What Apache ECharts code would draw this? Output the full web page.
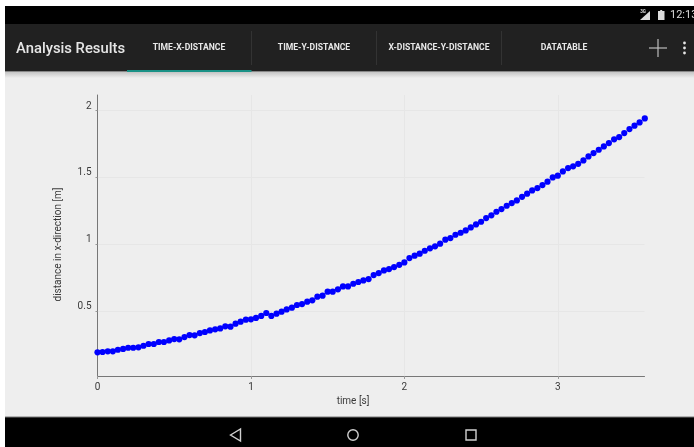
<!DOCTYPE html>
<html><head><meta charset="utf-8">
<style>html,body{margin:0;padding:0;background:#fff}#c{width:694px;height:447px}</style>
<script src="https://cdn.jsdelivr.net/npm/echarts@6/dist/echarts.min.js"></script>
</head><body><div id="c"></div>
<script>
const times = [0,0.033,0.067,0.1,0.133,0.167,0.2,0.233,0.267,0.3,0.333,0.367,0.4,0.433,0.467,0.5,0.533,0.567,0.6,0.633,0.667,0.7,0.733,0.767,0.8,0.833,0.867,0.9,0.933,0.967,1,1.033,1.067,1.1,1.133,1.167,1.2,1.233,1.267,1.3,1.333,1.367,1.4,1.433,1.467,1.5,1.533,1.567,1.6,1.633,1.667,1.7,1.733,1.767,1.8,1.833,1.867,1.9,1.933,1.967,2,2.033,2.067,2.1,2.133,2.167,2.2,2.233,2.267,2.3,2.333,2.367,2.4,2.433,2.467,2.5,2.533,2.567,2.6,2.633,2.667,2.7,2.733,2.767,2.8,2.833,2.867,2.9,2.933,2.967,3,3.033,3.067,3.1,3.133,3.167,3.2,3.233,3.267,3.3,3.333,3.367,3.4,3.433,3.467,3.5,3.533,3.567];
const distances = [0.191,0.193,0.198,0.198,0.210,0.216,0.225,0.225,0.228,0.240,0.253,0.253,0.268,0.268,0.280,0.290,0.288,0.305,0.320,0.318,0.335,0.343,0.355,0.363,0.370,0.385,0.383,0.405,0.420,0.435,0.438,0.448,0.463,0.485,0.463,0.480,0.495,0.512,0.525,0.545,0.552,0.570,0.580,0.607,0.615,0.645,0.645,0.662,0.684,0.684,0.704,0.717,0.729,0.739,0.769,0.784,0.804,0.814,0.829,0.846,0.864,0.896,0.914,0.929,0.951,0.969,0.984,1.004,1.034,1.046,1.071,1.086,1.103,1.126,1.148,1.168,1.196,1.216,1.243,1.263,1.288,1.308,1.328,1.355,1.378,1.403,1.420,1.443,1.468,1.500,1.513,1.545,1.570,1.583,1.602,1.627,1.657,1.682,1.707,1.732,1.757,1.785,1.802,1.832,1.862,1.887,1.912,1.942];
const xTicks = [0,1,2,3];
const yTicks = [0.5,1,1.5,2];
const tabs = ["TIME-X-DISTANCE","TIME-Y-DISTANCE","X-DISTANCE-Y-DISTANCE","DATATABLE"];
const tabCentres = [189,314,439,564];
const FF = 'Roboto';
const txt = (x,y,text,size,weight,fill,align) => ({type:'text',x,y,silent:true,style:{text,font:`${weight} ${size}px ${FF}`,fill,align:align||'center',verticalAlign:'middle'}});
const rect = (x,y,w,h,fill) => ({type:'rect',silent:true,shape:{x,y,width:w,height:h},style:{fill}});
const ln = (x1,y1,x2,y2,stroke,w) => ({type:'line',silent:true,shape:{x1,y1,x2,y2},style:{stroke,lineWidth:w}});
const chrome = [
  rect(5,6,689,441,'#eeeeee'),
  rect(5,72,689,6,{type:'linear',x:0,y:0,x2:0,y2:1,colorStops:[{offset:0,color:'#c4c4c4'},{offset:1,color:'#eeeeee'}]}),
  rect(5,6,689,18,'#000000'),
  rect(5,24,689,47.5,'#212121'),
  rect(127,70,124.5,2,'#1a9186'),
  ln(251.5,31,251.5,65,'#333333',1), ln(376.5,31,376.5,65,'#333333',1), ln(501.5,31,501.5,65,'#333333',1),
  txt(16,49.5,'Analysis Results',14.8,500,'#e6e6e6','left'),
  ...tabs.map((t,i)=>txt(tabCentres[i],48,t,8.6,700,'#e8e8e8')),
  ln(649,48,667,48,'#bdbdbd',1.2), ln(658,39,658,57,'#bdbdbd',1.2),
  {type:'circle',silent:true,shape:{cx:684.5,cy:43,r:1.4},style:{fill:'#e6e6e6'}},
  {type:'circle',silent:true,shape:{cx:684.5,cy:48,r:1.4},style:{fill:'#e6e6e6'}},
  {type:'circle',silent:true,shape:{cx:684.5,cy:53,r:1.4},style:{fill:'#e6e6e6'}},
  txt(670,15.5,'12:13',11,400,'#dcdcdc','left'),
  {type:'polygon',silent:true,shape:{points:[[640,20],[650,20],[650,11]]},style:{fill:'#dcdcdc'}},
  txt(643,12,'3G',4.5,700,'#dcdcdc'),
  rect(658,11,6.5,9,'#dcdcdc'), rect(660.2,10,2,1,'#dcdcdc'),
  rect(5,417,689,30,'#000000'), rect(5,416.5,689,1,'#777777'),
  {type:'polygon',silent:true,shape:{points:[[230.5,435],[240.5,429],[240.5,441]]},style:{fill:'none',stroke:'#d0d0d0',lineWidth:1.4}},
  {type:'circle',silent:true,shape:{cx:353,cy:435,r:5.2},style:{fill:'none',stroke:'#d0d0d0',lineWidth:1.4}},
  {type:'rect',silent:true,shape:{x:466,y:430,width:10,height:10},style:{fill:'none',stroke:'#d0d0d0',lineWidth:1.4}}
];
const chart = echarts.init(document.getElementById('c'),null,{renderer:'canvas'});
chart.setOption({
  animation:false,
  backgroundColor:'#ffffff',
  graphic:{elements:chrome.map(e=>Object.assign(e,{z:-1,zlevel:0}))},
  grid:{left:97.5,right:49.5,top:95,bottom:71,containLabel:false},
  xAxis:{type:'value',min:0,max:3.565,name:'time [s]',nameLocation:'middle',nameGap:13,
    nameTextStyle:{fontFamily:FF,fontSize:10,color:'#3a3a3a',padding:[0,36,0,0]},
    axisLine:{show:true,lineStyle:{color:'#777777',width:1}},
    axisTick:{show:true,length:3,lineStyle:{color:'#999999'},customValues:xTicks},
    axisLabel:{fontFamily:FF,fontSize:10,color:'#3a3a3a',margin:6,customValues:xTicks},
    splitLine:{show:true,lineStyle:{color:'#e6e6e6',width:1}}},
  yAxis:{type:'value',min:0.0135,max:2.117,name:'distance in x-direction [m]',nameLocation:'middle',nameGap:34,
    nameTextStyle:{fontFamily:FF,fontSize:10,color:'#3a3a3a',padding:[0,18,0,0]},
    axisLine:{show:true,lineStyle:{color:'#777777',width:1}},
    axisTick:{show:true,length:2,lineStyle:{color:'#999999'},customValues:yTicks},
    axisLabel:{fontFamily:FF,fontSize:10,color:'#3a3a3a',margin:6,verticalAlign:'bottom',lineHeight:9,customValues:yTicks},
    splitLine:{show:true,lineStyle:{color:'#e6e6e6',width:1}}},
  series:[{type:'scatter',data:times.map((t,i)=>[t,distances[i]]),symbol:'circle',symbolSize:6.2,clip:false,
    itemStyle:{color:'#0000ff',opacity:1}}]
});
</script></body></html>
